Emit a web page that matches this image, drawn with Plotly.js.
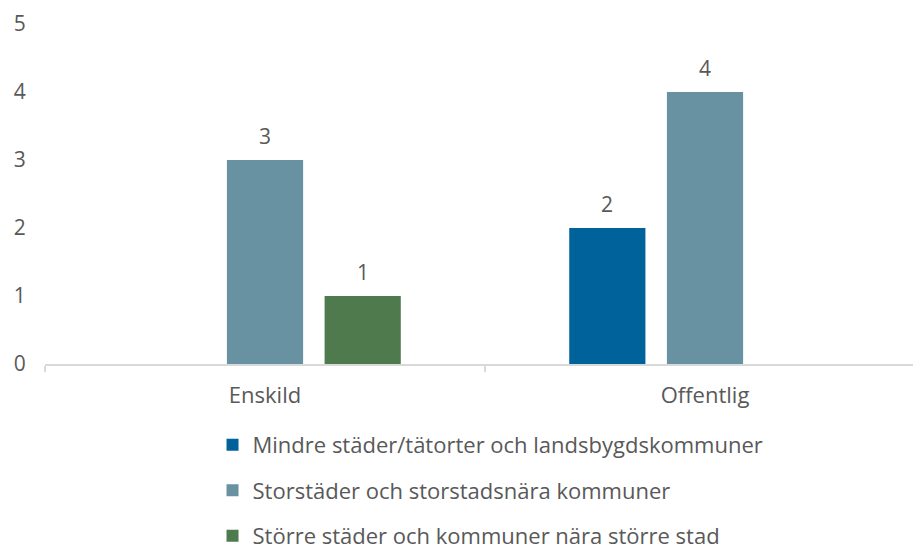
<!DOCTYPE html>
<html>
<head>
<meta charset="utf-8">
<script src="https://cdn.plot.ly/plotly-3.0.1.min.js"></script>
<style>html,body{margin:0;padding:0;background:#fff}#chart{width:913px;height:549px}</style>
</head>
<body>
<div id="chart"></div>
<script>
const categories = ["Enskild", "Offentlig"];
const seriesNames = [
  "Mindre städer/tätorter och landsbygdskommuner",
  "Storstäder och storstadsnära kommuner",
  "Större städer och kommuner nära större stad"
];
const mindre = [0, 2];
const storstader = [3, 4];
const storre = [1, 0];
const yTicks = [0, 1, 2, 3, 4, 5];

const colors = ["#00629B", "#6891A2", "#4E7A4E"];
const allSeries = [mindre, storstader, storre];
const textColor = "#595959";
const fontFamily = "'Open Sans', Lato, sans-serif";
const bargap = 0.334;

const traces = allSeries.map((vals, i) => ({
  type: "bar",
  x: categories,
  y: vals,
  name: seriesNames[i],
  legendgroup: "g" + i,
  marker: {color: colors[i]},
  hoverinfo: "skip"
}));

const annotations = [];
allSeries.forEach((vals, i) => {
  vals.forEach((v, c) => {
    if (v > 0) {
      annotations.push({
        x: c + (i - 1) * (1 - bargap) / 3,
        y: v,
        xref: "x", yref: "y",
        text: String(v),
        showarrow: false,
        yanchor: "bottom",
        yshift: 8,
        font: {family: fontFamily, size: 21, color: textColor}
      });
    }
  });
});

const layout = {
  width: 913, height: 549,
  margin: {l: 45, r: 0, t: 24, b: 185, autoexpand: false},
  paper_bgcolor: "#fff", plot_bgcolor: "#fff",
  font: {family: fontFamily, size: 22, color: textColor},
  barmode: "group",
  bargap: bargap,
  bargroupgap: 0.22,
  showlegend: true,
  legend: {
    orientation: "v",
    x: 0.193, xanchor: "left",
    y: -0.176, yanchor: "top",
    traceorder: "grouped",
    tracegroupgap: 14,
    font: {family: fontFamily, size: 22, color: textColor}
  },
  xaxis: {
    type: "category",
    range: [-0.5, 1.4727],
    showline: true, linecolor: "#d9d9d9", linewidth: 1.5,
    ticks: "outside", tickson: "boundaries", ticklen: 6, tickcolor: "#d9d9d9", tickwidth: 1.5,
    ticklabelstandoff: 11,
    showgrid: false, zeroline: false,
    tickfont: {family: fontFamily, size: 22, color: textColor}
  },
  yaxis: {
    range: [0, 5],
    tickvals: yTicks,
    showgrid: false, zeroline: false, showline: false,
    ticks: "outside", ticklen: 14, tickcolor: "rgba(0,0,0,0)",
    tickfont: {family: fontFamily, size: 21, color: textColor}
  },
  annotations: annotations
};

Plotly.newPlot("chart", traces, layout, {displayModeBar: false, staticPlot: true});
</script>
</body>
</html>
